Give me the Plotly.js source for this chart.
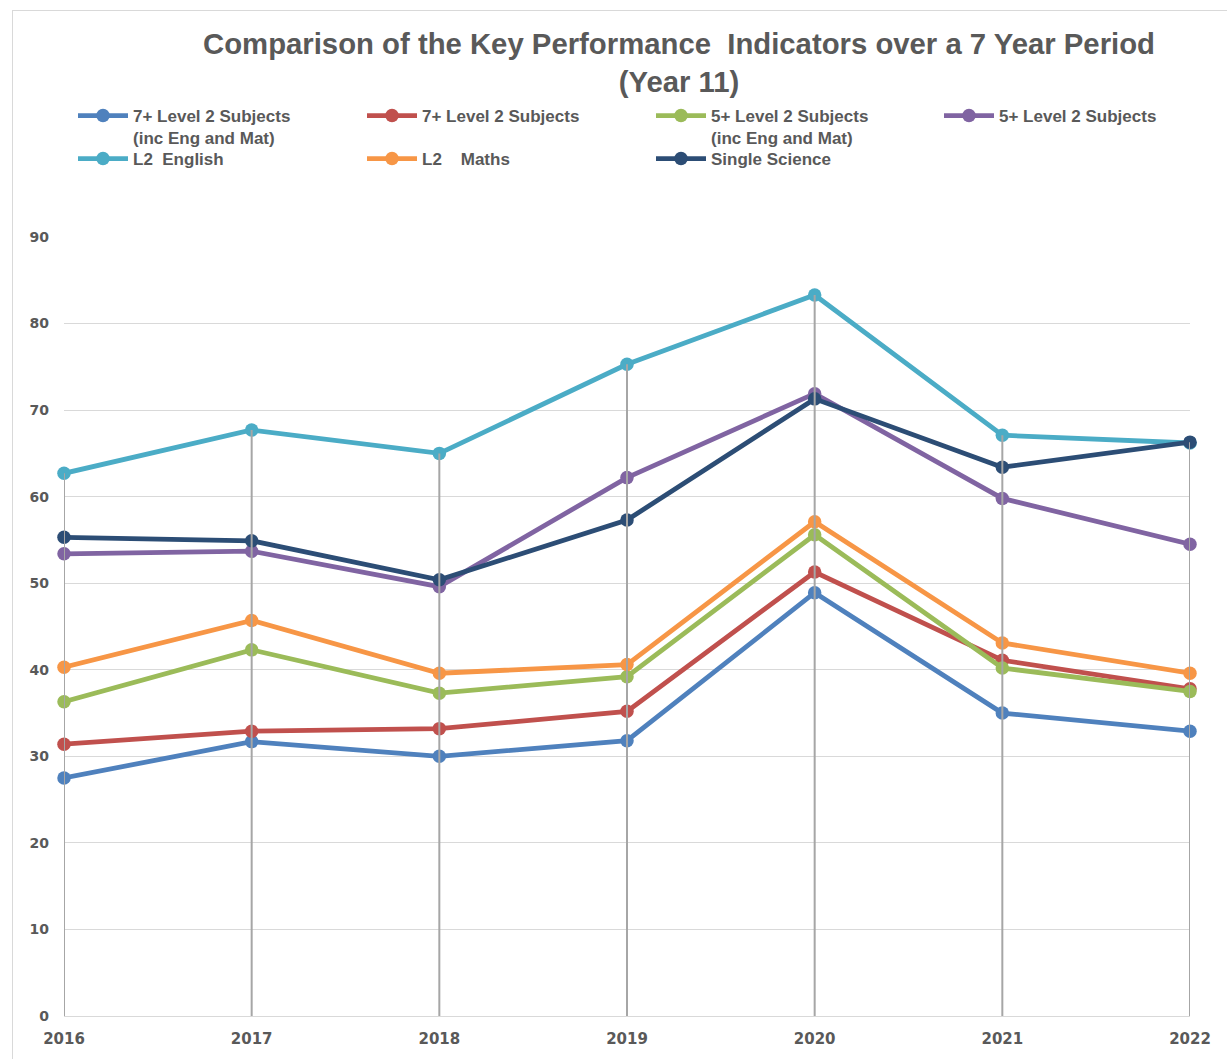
<!DOCTYPE html>
<html>
<head>
<meta charset="utf-8">
<script src="https://cdn.plot.ly/plotly-3.0.1.min.js"></script>
<style>
  html, body { margin: 0; padding: 0; background: #ffffff; }
  #wrap { position: relative; width: 1227px; height: 1059px; overflow: hidden; }
  #frame { position: absolute; left: 12px; top: 10px; width: 1300px; height: 1200px; border: 1px solid #d9d9d9; box-sizing: border-box; }
  #chart { position: absolute; left: 0; top: 0; width: 1227px; height: 1059px; }
</style>
</head>
<body>
<div id="wrap">
  <div id="frame"></div>
  <div id="chart"></div>
</div>
<script>
// ---- data ----
const years = [2016, 2017, 2018, 2019, 2020, 2021, 2022];

const seriesNames = [
  "7+ Level 2 Subjects<br>(inc Eng and Mat)",
  "7+ Level 2 Subjects",
  "5+ Level 2 Subjects<br>(inc Eng and Mat)",
  "5+ Level 2 Subjects",
  "L2  English",
  "L2    Maths",
  "Single Science"
];

const sevenPlusIncEngMat = [27.5, 31.7, 30.0, 31.8, 48.9, 35.0, 32.9];
const sevenPlus          = [31.4, 32.9, 33.2, 35.2, 51.3, 41.1, 37.8];
const fivePlusIncEngMat  = [36.3, 42.3, 37.3, 39.2, 55.6, 40.2, 37.5];
const fivePlus           = [53.4, 53.7, 49.6, 62.2, 71.9, 59.8, 54.5];
const l2English          = [62.7, 67.7, 65.0, 75.3, 83.3, 67.1, 66.2];
const l2Maths            = [40.3, 45.7, 39.6, 40.6, 57.1, 43.1, 39.6];
const singleScience      = [55.3, 54.9, 50.4, 57.3, 71.3, 63.4, 66.3];

const yTicks = [0, 10, 20, 30, 40, 50, 60, 70, 80, 90];

// ---- styling ----
const colors = ["#4f81bd", "#c0504d", "#9bbb59", "#8064a2", "#4bacc6", "#f79646", "#2c4d75"];
const allSeries = [sevenPlusIncEngMat, sevenPlus, fivePlusIncEngMat, fivePlus, l2English, l2Maths, singleScience];
// which legend box each series goes into (row 1: legend + legend3, row 2: legend2)
const legendOf = ["legend", "legend", "legend", "legend3", "legend2", "legend2", "legend2"];

const traces = allSeries.map((vals, i) => ({
  type: "scatter",
  mode: "lines+markers",
  name: seriesNames[i],
  legend: legendOf[i],
  x: years,
  y: vals,
  line: { color: colors[i], width: 4.8 },
  marker: { color: colors[i], size: 13.5 },
  cliponaxis: false
}));

// drop lines: from the highest value in each year down to the axis
const dropX = [], dropY = [];
years.forEach((yr, j) => {
  const top = Math.max(...allSeries.map(s => s[j]));
  dropX.push(yr, yr, null);
  dropY.push(0, top, null);
});
traces.push({
  type: "scatter",
  mode: "lines",
  x: dropX,
  y: dropY,
  line: { color: "#a6a6a6", width: 2 },
  showlegend: false,
  hoverinfo: "skip",
  cliponaxis: false
});

const grey = "#595959";
const legendFont = { family: "Liberation Sans, Arial, sans-serif", size: 17, color: grey, weight: "bold" };
const legendBase = {
  orientation: "h",
  xref: "container", x: 73 / 1227, xanchor: "left",
  yref: "container", yanchor: "top",
  font: legendFont,
  entrywidth: 224,
  entrywidthmode: "pixels",
  itemwidth: 50,
  valign: "top",
  traceorder: "normal",
  bgcolor: "rgba(0,0,0,0)"
};

const layout = {
  width: 1227,
  height: 1059,
  paper_bgcolor: "rgba(0,0,0,0)",
  plot_bgcolor: "rgba(0,0,0,0)",
  margin: { l: 64, r: 37, t: 237, b: 43 },
  title: {
    text: "Comparison of the Key Performance&nbsp; Indicators over a 7 Year Period<br>(Year 11)",
    font: { family: "Liberation Sans, Arial, sans-serif", size: 29.3, color: grey, weight: "bold" },
    xref: "container", x: 679 / 1227, xanchor: "center",
    yref: "container", y: 1 - 54 / 1059, yanchor: "top"
  },
  showlegend: true,
  legend: Object.assign({}, legendBase, { y: 1 - 98 / 1059 }),
  legend2: Object.assign({}, legendBase, { y: 1 - 141 / 1059 }),
  legend3: Object.assign({}, legendBase, { x: 939 / 1227, y: 1 - 98 / 1059 }),
  xaxis: {
    range: [2016, 2022],
    tickmode: "array",
    tickvals: years,
    ticktext: years.map(String),
    showgrid: false,
    zeroline: false,
    showline: true,
    linecolor: "#d9d9d9",
    linewidth: 1,
    ticks: "",
    ticklabelstandoff: 9,
    tickfont: { family: "DejaVu Sans, sans-serif", size: 15, color: grey, weight: "bold" },
    fixedrange: true
  },
  yaxis: {
    range: [0, 90],
    tickmode: "array",
    tickvals: yTicks,
    ticktext: yTicks.map(String),
    showgrid: true,
    gridcolor: "#d9d9d9",
    gridwidth: 1,
    zeroline: false,
    showline: false,
    ticks: "",
    ticklabelstandoff: 14,
    tickfont: { family: "DejaVu Sans, sans-serif", size: 14, color: grey, weight: "bold" },
    fixedrange: true
  },
  hovermode: false
};

Plotly.newPlot("chart", traces, layout, { displayModeBar: false, staticPlot: true });
</script>
</body>
</html>
